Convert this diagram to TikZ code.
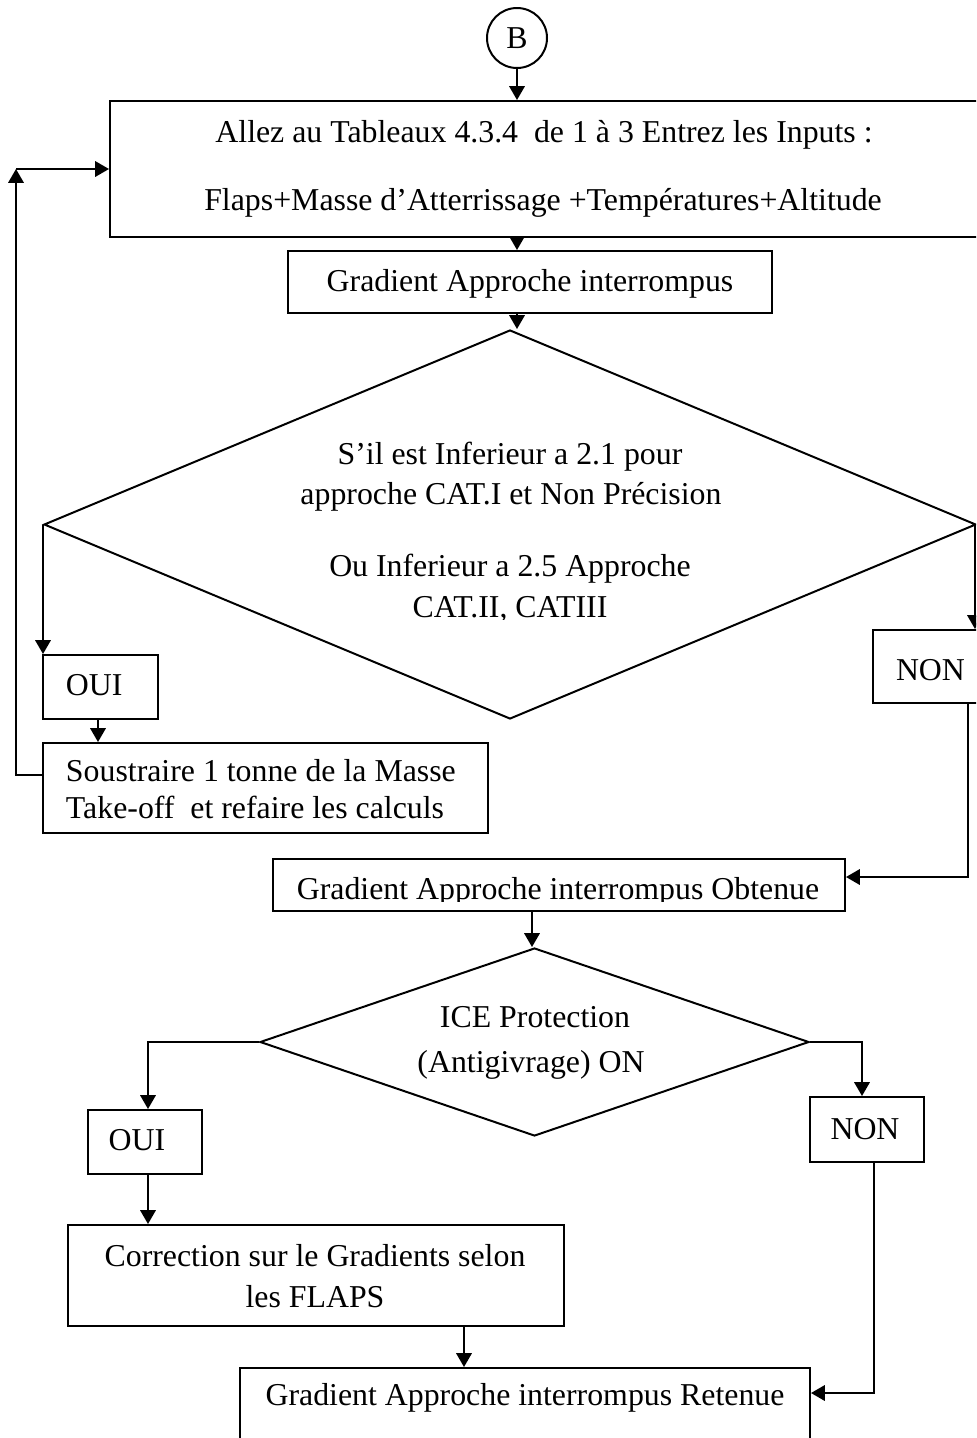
\documentclass[tikz,border=0pt]{standalone}
\usepackage{fontspec}
\setmainfont{Liberation Serif}
\usetikzlibrary{arrows.meta,shapes.geometric,calc}
\def\u{0.377pt}
\begin{document}
\begin{tikzpicture}[x=0.377pt,y=-0.377pt,
  font=\fontsize{12pt}{14pt}\selectfont,
  line width=0.75pt,
  box/.style={draw,rectangle,inner sep=0pt},
  dec/.style={draw,diamond,inner sep=0pt},
  txt/.style={inner sep=0pt,anchor=base},
  txtl/.style={inner sep=0pt,anchor=base west},
  arr/.style={-{Triangle[length=5.2pt,width=5.8pt]}}]
\clip (0,0) rectangle (976,1438);

% start connector
\node[draw,circle,inner sep=0pt,minimum size=60*\u] (b) at (517,38) {B};

% boxes
\node[box,minimum width=868*\u,minimum height=136*\u] (inp) at (544,169) {};
\node[box,minimum width=484*\u,minimum height=62*\u] (g1) at (530,282) {};
\node[dec,minimum width=932*\u,minimum height=389*\u] (d1) at (510,524.5) {};
\node[box,minimum width=115*\u,minimum height=64*\u] (oui1) at (100.5,687) {};
\node[box,minimum width=445*\u,minimum height=90*\u] (sous) at (265.5,788) {};
\node[box,minimum width=107*\u,minimum height=73*\u] (non1) at (926.5,666.5) {};
\node[box,minimum width=572*\u,minimum height=52*\u] (obt) at (559,885) {};
\node[dec,minimum width=549*\u,minimum height=188*\u] (d2) at (534.5,1042) {};
\node[box,minimum width=114*\u,minimum height=64*\u] (oui2) at (145,1142) {};
\node[box,minimum width=114*\u,minimum height=65*\u] (non2) at (867,1129.5) {};
\node[box,minimum width=496*\u,minimum height=101*\u] (corr) at (316,1275.5) {};
\node[box,minimum width=570*\u,minimum height=82*\u] (ret) at (525,1409) {};

% texts
\node[txt] (t1a) at (544,142) {Allez au Tableaux 4.3.4\ \ de 1 à 3 Entrez les Inputs :};
\node[txt] (t1b) at (543,210) {Flaps+Masse d’Atterrissage +Températures+Altitude};
\node[txt] (t2) at (530,291) {Gradient Approche interrompus};
\node[txt] (t3a) at (510,464) {S’il est Inferieur a 2.1 pour};
\node[txt] (t3b) at (511,504) {approche CAT.I et Non Précision};
\node[txt] (t3c) at (510,576) {Ou Inferieur a 2.5 Approche};
\begin{scope}
  \clip (300,585) rectangle (720,619.5);
  \node[txt] (t3d) at (510,617) {CAT.II, CATIII};
\end{scope}
\node[txtl] (t4) at (65,695) {OUI};
\node[txtl] (t5) at (895,680) {NON};
\node[txtl] (t6a) at (65,781) {Soustraire 1 tonne de la Masse};
\node[txtl] (t6b) at (65,818) {Take-off\ \ et refaire les calculs};
\begin{scope}
  \clip (280,862) rectangle (840,901);
  \node[txt] (t7) at (558,899) {Gradient Approche interrompus Obtenue};
\end{scope}
\node[txt] (t8a) at (535,1027) {ICE Protection};
\node[txt] (t8b) at (531,1072) {(Antigivrage) ON};
\node[txt] (t9) at (137,1150) {OUI};
\node[txt] (t10) at (865,1139) {NON};
\node[txt] (t11a) at (315,1266) {Correction sur le Gradients selon};
\node[txt] (t11b) at (315,1307) {les FLAPS};
\node[txt] (t12) at (525,1405) {Gradient Approche interrompus Retenue};

% guide coordinates for connector positions
\coordinate (ca) at (517,0);
\coordinate (cb) at (532,0);
\coordinate (c98) at (98,0);
\coordinate (lp) at (16,775);
\coordinate (nr) at (968,877);
\coordinate (nl) at (975,0);
\coordinate (ol) at (148,0);
\coordinate (cr) at (862,0);
\coordinate (rr) at (874,1393);
\coordinate (c464) at (464,0);

% connectors
\draw[arr] (b.south) -- (b.south |- inp.north);
\draw[arr] (inp.south -| ca) -- (g1.north -| ca);
\draw[arr] (g1.south -| ca) -- (d1.north -| ca);
\draw[arr] (d1.west) -- (d1.west |- oui1.north);
\draw[arr] (oui1.south -| c98) -- (sous.north -| c98);
\draw[arr] (sous.west |- lp) -- (lp) -- (lp |- inp.west);
\draw[arr] (lp |- inp.west) -- (inp.west);
\draw[arr] (d1.east -| nl) -- (non1.north -| nl);
\draw[arr] (non1.south -| nr) -- (nr) -- (obt.east |- nr);
\draw[arr] (obt.south -| cb) -- (d2.north -| cb);
\draw[arr] (d2.west) -| (oui2.north -| ol);
\draw[arr] (oui2.south -| ol) -- (corr.north -| ol);
\draw[arr] (d2.east) -| (non2.north -| cr);
\draw[arr] (non2.south -| rr) -- (rr) -- (ret.east |- rr);
\draw[arr] (corr.south -| c464) -- (ret.north -| c464);
\end{tikzpicture}
\end{document}
